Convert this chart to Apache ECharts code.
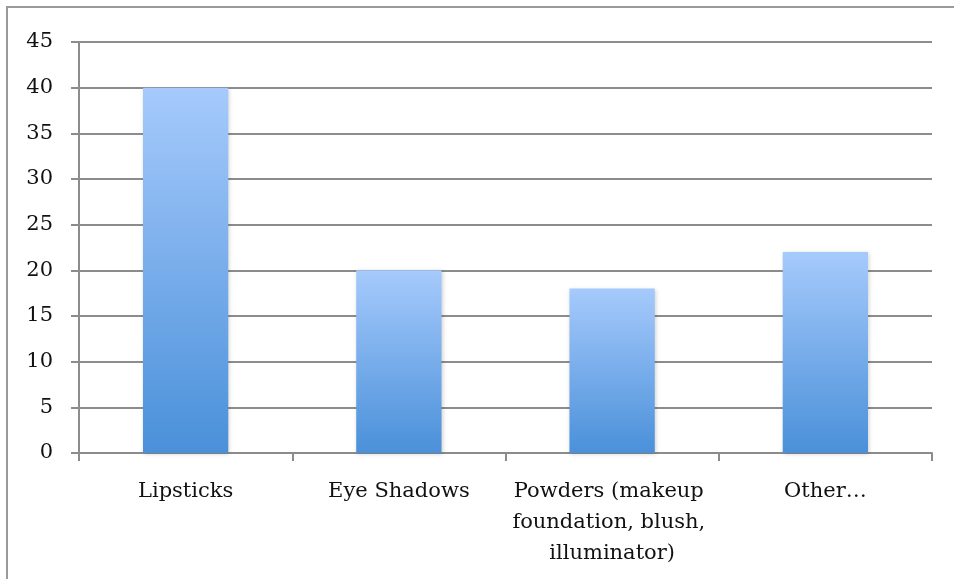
<!DOCTYPE html>
<html>
<head>
<meta charset="utf-8">
<script src="https://cdn.jsdelivr.net/npm/echarts@6/dist/echarts.min.js"></script>
<style>
  html, body { margin: 0; padding: 0; background: #fff; }
  #chart { width: 954px; height: 579px; }
</style>
</head>
<body>
<div id="chart"></div>
<script>
// data
var categories = ['Lipsticks', 'Eye Shadows', 'Powders (makeup foundation, blush, illuminator)', 'Other…'];
var values = [40, 20, 18, 22];

var chart = echarts.init(document.getElementById('chart'));
var font = 'DejaVu Serif, Liberation Serif, serif';

chart.setOption({
    animation: false,
    graphic: [{
        type: 'rect',
        shape: { x: 7, y: 7, width: 980, height: 600 },
        style: { fill: 'none', stroke: '#9a9a9a', lineWidth: 2 },
        silent: true
    }],
    grid: { left: 79, right: 22, top: 42, bottom: 126 },
    xAxis: {
        type: 'category',
        data: categories,
        axisLine: { lineStyle: { color: '#8c8c8c', width: 2 } },
        axisTick: { show: true, length: 8, lineStyle: { color: '#8c8c8c', width: 2 } },
        axisLabel: {
            color: '#111',
            fontFamily: font,
            fontSize: 21,
            lineHeight: 31,
            margin: 23,
            interval: 0,
            width: 210,
            overflow: 'break'
        }
    },
    yAxis: {
        type: 'value',
        min: 0,
        max: 45,
        interval: 5,
        axisLine: { show: true, lineStyle: { color: '#8c8c8c', width: 2 } },
        axisTick: { show: true, length: 8, lineStyle: { color: '#8c8c8c', width: 2 } },
        splitLine: { lineStyle: { color: '#8c8c8c', width: 2 } },
        axisLabel: {
            color: '#111',
            fontFamily: font,
            fontSize: 21,
            margin: 26
        }
    },
    series: [{
        type: 'bar',
        data: values,
        barWidth: '40%',
        itemStyle: {
            color: new echarts.graphic.LinearGradient(0, 0, 0, 1, [
                { offset: 0, color: '#a6cafc' },
                { offset: 1, color: '#4a90d9' }
            ]),
            shadowColor: 'rgba(0,0,0,0.18)',
            shadowBlur: 4,
            shadowOffsetX: 1,
            shadowOffsetY: 1
        }
    }]
});
</script>
</body>
</html>
